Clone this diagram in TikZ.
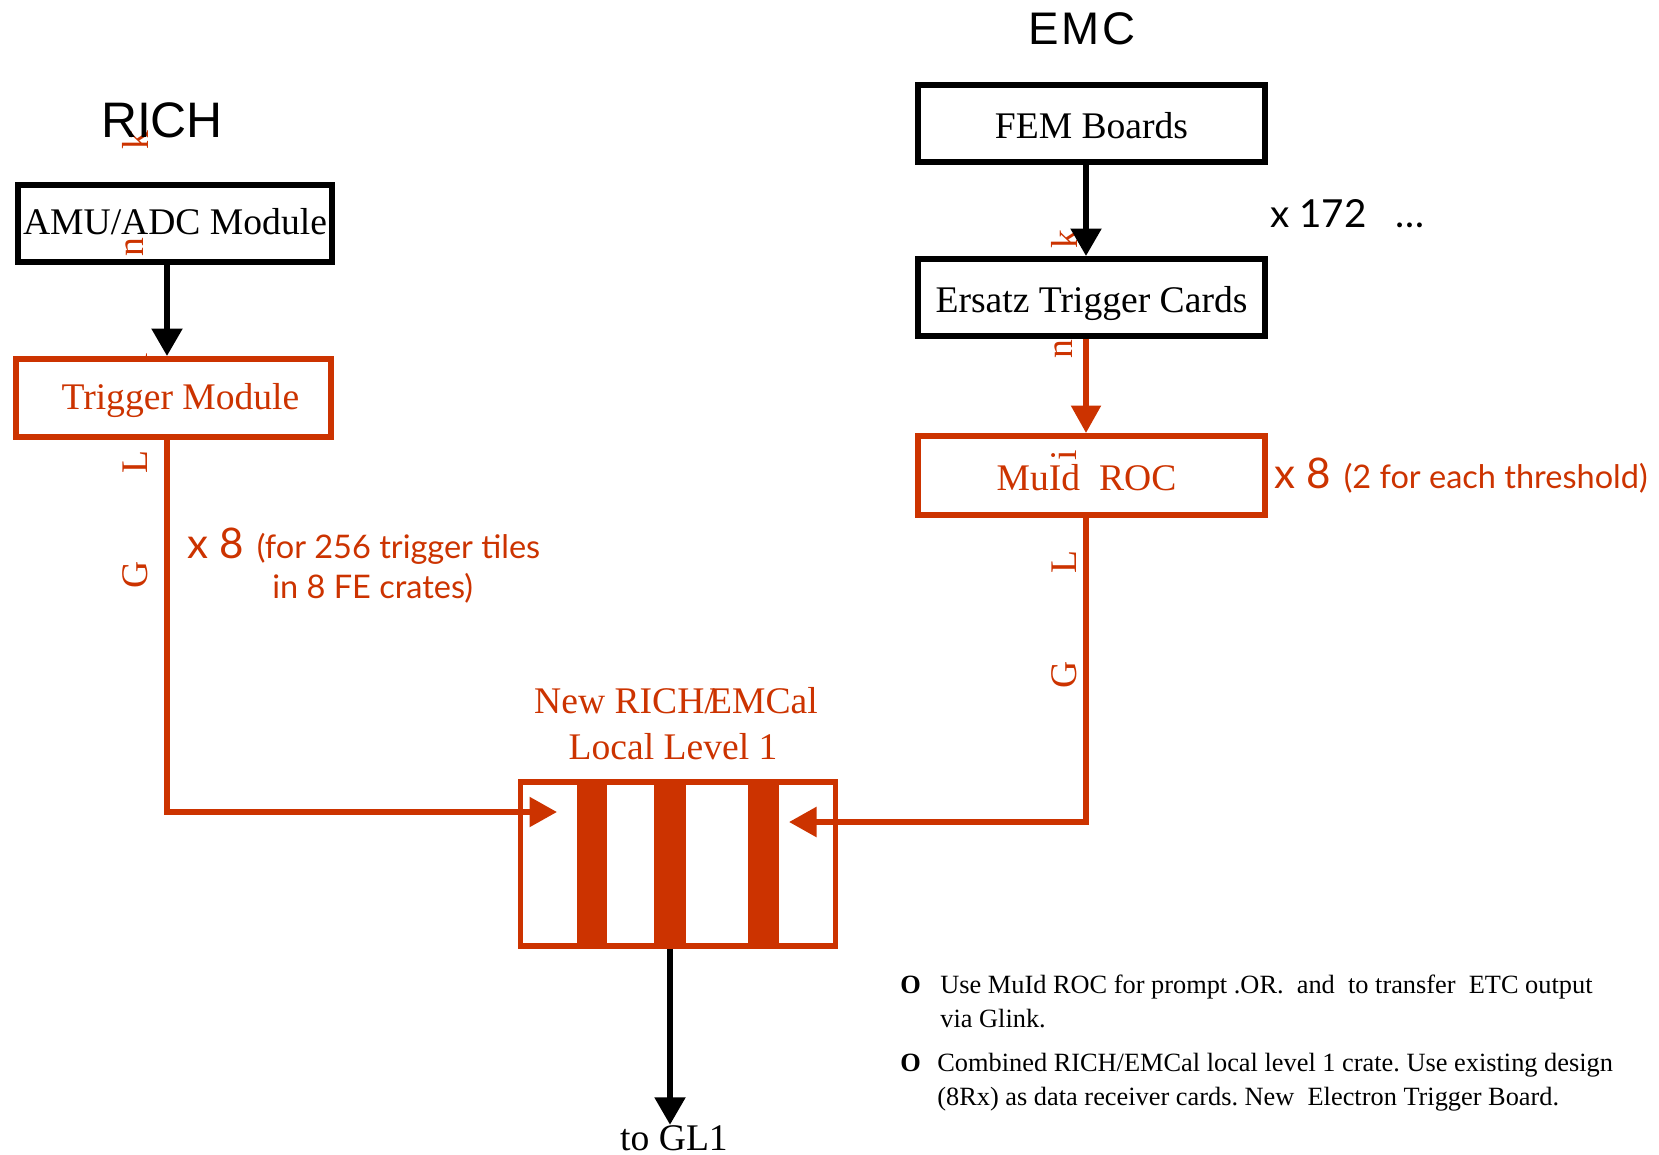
\documentclass[tikz,border=0pt]{standalone}
\usepackage{fontspec}
\setmainfont{Liberation Serif}
\newfontfamily\helvfont{Liberation Sans}
\newfontfamily\notefont{Lato}
\newcommand{\bigxfont}{\notefont\fontsize{24}{28}\selectfont}
\usetikzlibrary{arrows.meta}
\definecolor{trigred}{RGB}{204,51,0}
\frenchspacing

\begin{document}
\begin{tikzpicture}[x=0.02cm,y=-0.02cm,every node/.style={inner sep=0pt},
        boxtext/.style={font=\fontsize{21.4}{25}\selectfont},
        blackbox/.style={boxtext,draw=black,line width=0.11cm,text height=15pt,text depth=2pt},
        redbox/.style={boxtext,draw=trigred,text=trigred,line width=0.11cm,text height=15pt,text depth=2pt},
        lowtext/.style={text height=17pt,text depth=0pt},
        glinkletter/.style={boxtext,text=trigred,rotate=90},
        notetext/.style={text=trigred,font=\notefont\fontsize{18.5}{22}\selectfont},
        bullettext/.style={font=\fontsize{15}{19}\selectfont},
        blackarrow/.style={draw=black,line width=0.11cm,-{Triangle[width=0.6cm,length=0.55cm]}},
        redarrow/.style={draw=trigred,line width=0.11cm,-{Triangle[width=0.58cm,length=0.55cm]}}]
    \useasboundingbox (0,0) rectangle (1659,1155);

    % Glink letters along the red links (drawn first, partly hidden)
    \node (lglk) at (135,140) [glinkletter] {k};
    \node (lgln) at (135,247) [glinkletter] {n};
    \node (lgli) at (135,358) [glinkletter] {i};
    \node (lglL) at (135,462) [glinkletter] {L};
    \node (lglG) at (135,575) [glinkletter] {G};

    % Titles
    \node (richttl) at (162,138) [anchor=base,font=\helvfont\fontsize{28.4}{30}\selectfont] {RICH};
    \node (emcttl) at (1082,45) [anchor=base,font=\helvfont\fontsize{26}{30}\selectfont\addfontfeatures{LetterSpace=7}] {EMC};

    % RICH chain
    \node (amu) at (175,223.5) [blackbox,minimum width=6.29cm,minimum height=1.55cm] {AMU/ADC Module};
    \node (trig) at (173.5,398) [redbox,fill=white,minimum width=6.31cm,minimum height=1.57cm] {\hspace*{0.28cm}Trigger Module};

    % EMC chain
    \node (fem) at (1091.5,123.5) [blackbox,lowtext,minimum width=6.95cm,minimum height=1.55cm] {FEM Boards};
    \node (etc) at (1091.5,297.5) [blackbox,lowtext,minimum width=6.95cm,minimum height=1.55cm] {Ersatz Trigger Cards};
    \node (muid) at (1091.5,475.5) [redbox,lowtext,minimum width=6.95cm,minimum height=1.59cm] {MuId\ \ ROC\hspace*{0.2cm}};

    \node (rglk) at (1064,239) [glinkletter] {k};
    \node (rgln) at (1064,349) [glinkletter] {n};
    \node (rgli) at (1064,455) [glinkletter] {i};
    \node (rglL) at (1064,562) [glinkletter] {L};
    \node (rglG) at (1064,675) [glinkletter] {G};

    % Multiplicities
    \node (femmult) at (1270,228) [anchor=base west,font=\notefont\fontsize{22}{26}\selectfont] {x 172\hspace{0.75em}\dots};
    \node (muidmult) at (1274,488) [anchor=base west,notetext] {{\bigxfont x 8}\hspace{0.15em} (2 for each threshold)};
    \node (trigmult) at (187,558) [anchor=base west,notetext] {{\bigxfont x 8}\hspace{0.15em} (for 256 trigger tiles};
    \node (trigcrates) at (272,598) [anchor=base west,notetext] {in 8 FE crates)};

    % New local level 1 crate
    \node (lltitlea) at (676,713) [anchor=base,boxtext,text=trigred] {New RICH/\kern-0.15em EMCal};
    \node (lltitleb) at (673,759) [anchor=base,boxtext,text=trigred] {Local Level 1};
    \fill[trigred] (577,780) rectangle (607,948);
    \fill[trigred] (654,780) rectangle (686,948);
    \fill[trigred] (748,780) rectangle (779,948);
    \node (ll1) at (678,864) [draw=trigred,line width=0.11cm,minimum width=6.3cm,minimum height=3.28cm] {};
    \node (gl1) at (674,1150) [anchor=base,boxtext] {to GL1};

    % Connections
    \coordinate (richx) at (167,0);
    \coordinate (emcx) at (1086,0);
    \coordinate (outx) at (670,0);
    \coordinate (llleft) at (557,812);
    \coordinate (llright) at (789,822);
    \draw[blackarrow] (amu.south -| richx) -- (trig.north -| richx);
    \draw[blackarrow] (fem.south -| emcx) -- (etc.north -| emcx);
    \draw[redarrow] (etc.south -| emcx) -- (muid.north -| emcx);
    \draw[redarrow] (trig.south -| richx) |- (llleft);
    \draw[redarrow] (muid.south -| emcx) |- (llright);
    \draw[blackarrow] (ll1.south -| outx) -- (gl1.north -| outx);

    % Notes
    \node (bula) at (900,993) [anchor=base west,bullettext] {\textbf{O}};
    \node (notea1) at (940,993) [anchor=base west,bullettext] {Use MuId ROC for prompt .OR.\ \ and\ \ to transfer\ \ ETC output};
    \node (notea2) at (940,1027) [anchor=base west,bullettext] {via Glink.};
    \node (bulb) at (900,1071) [anchor=base west,bullettext] {\textbf{O}};
    \node (noteb1) at (937,1071) [anchor=base west,bullettext] {Combined RICH/EMCal local level 1 crate. Use existing design};
    \node (noteb2) at (937,1105) [anchor=base west,bullettext] {(8Rx) as data receiver cards. New\ \ Electron Trigger Board.};
\end{tikzpicture}
\end{document}
